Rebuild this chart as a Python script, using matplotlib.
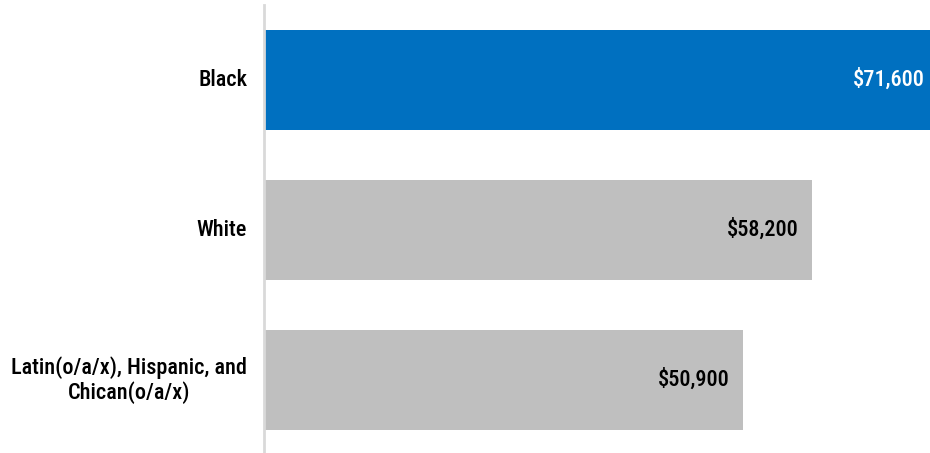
import matplotlib
matplotlib.use("Agg")
import matplotlib.pyplot as plt
from matplotlib import font_manager as fm

categories = ["Black", "White", "Latin(o/a/x), Hispanic, and\nChican(o/a/x)"]
values = [71600, 58200, 50900]
value_labels = ["$71,600", "$58,200", "$50,900"]
colors = ["#0070C0", "#BFBFBF", "#BFBFBF"]
label_colors = ["white", "black", "black"]

names = {f.name for f in fm.fontManager.ttflist}
fam = "DejaVu Sans"
for cand in ["Roboto Condensed", "Archivo Narrow", "PT Sans Narrow",
             "Fira Sans Condensed", "IBM Plex Sans Condensed"]:
    if cand in names:
        fam = cand
        break

W, H = 930, 453
AX_W = W - 264
XMAX = 70700
fig = plt.figure(figsize=(W / 100, H / 100), dpi=100)
ax = fig.add_axes([264 / W, 0, AX_W / W, (H - 5) / H])

pos = list(range(len(categories)))
ax.barh(pos, values, height=0.667, color=colors, left=0)
ax.set_xlim(0, XMAX)
ax.set_ylim(2.487, -0.5)

pad = 14 * XMAX / AX_W
for p, v, t, c in zip(pos, values, value_labels, label_colors):
    ax.text(v - pad, p, t, ha="right", va="center", color=c,
            fontsize=16, family=fam, fontweight=500)

for p, cat in zip(pos, categories):
    ax.text(-17 / AX_W, p, cat, transform=ax.get_yaxis_transform(), ha="right", va="center",
            multialignment="center", fontsize=16, family=fam, fontweight=500,
            color="black", linespacing=1.15)

ax.set_xticks([])
ax.set_yticks([])
for s in ["top", "right", "bottom"]:
    ax.spines[s].set_visible(False)
ax.spines["left"].set_color("#D9D9D9")
ax.spines["left"].set_linewidth(2)

fig.savefig("out.png", dpi=100)
